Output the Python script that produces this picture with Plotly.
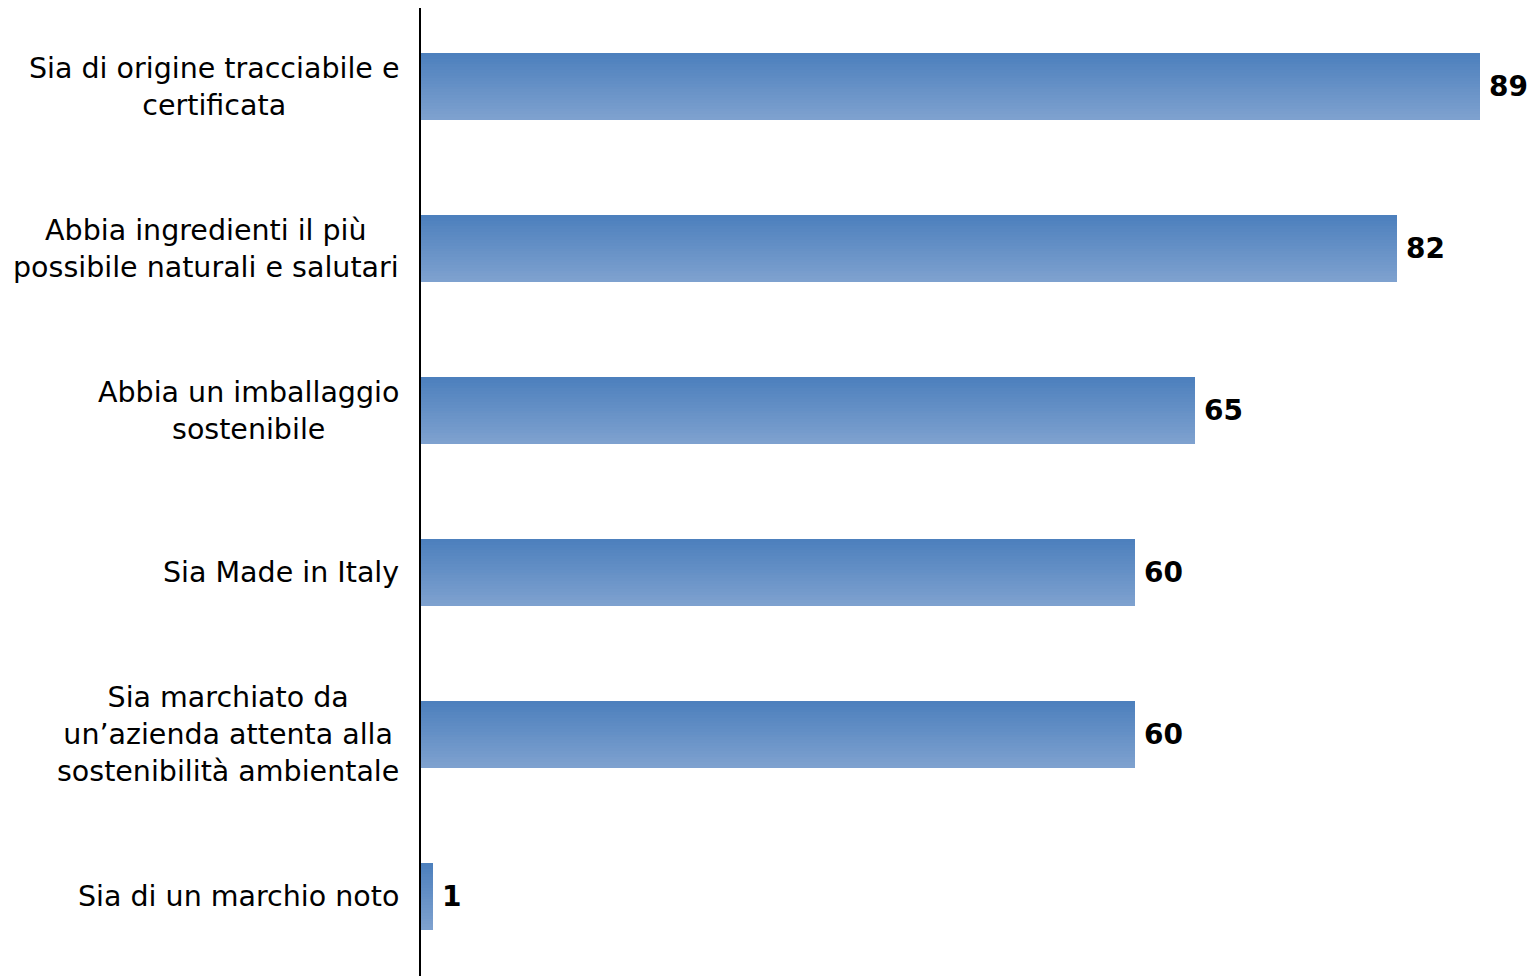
import plotly.graph_objects as go

categories = [
    "Sia di origine tracciabile e<br>certificata",
    "Abbia ingredienti il più<br>possibile naturali e salutari",
    "Abbia un imballaggio<br>sostenibile",
    "Sia Made in Italy",
    "Sia marchiato da<br>un’azienda attenta alla<br>sostenibilità ambientale",
    "Sia di un marchio noto",
]
values = [89, 82, 65, 60, 60, 1]

top_rgb = (77, 128, 189)
bot_rgb = (126, 161, 207)
N = 24
bar_w = 0.41
ypos = list(range(len(categories)))

fig = go.Figure()
for i in range(N):
    t = i / (N - 1)
    c = tuple(round(top_rgb[k] + (bot_rgb[k] - top_rgb[k]) * t) for k in range(3))
    fig.add_trace(go.Bar(
        x=values, y=ypos, orientation="h",
        width=bar_w / N + 0.002,
        offset=-bar_w / 2 + i * bar_w / N,
        marker=dict(color=f"rgb{c}", line=dict(width=0)),
        hoverinfo="skip", showlegend=False,
    ))

for y, v in zip(ypos, values):
    fig.add_annotation(x=v, y=y, text=f"<b>{v}</b>", showarrow=False,
                       xanchor="left", yanchor="middle", xshift=7,
                       font=dict(family="DejaVu Sans", size=28, color="black"))

for y, c in zip(ypos, categories):
    fig.add_annotation(x=0, xref="paper", y=y, text=c, showarrow=False,
                       xanchor="right", yanchor="middle", align="center", xshift=-20,
                       font=dict(family="DejaVu Sans", size=28.5, color="black"))

fig.update_layout(
    width=1529, height=970,
    margin=dict(l=413, r=21, t=0, b=0),
    paper_bgcolor="white", plot_bgcolor="white",
    barmode="overlay", bargap=0,
    xaxis=dict(range=[0, 92], visible=False, fixedrange=True),
    yaxis=dict(range=[5.503, -0.485], showticklabels=False, showgrid=False, zeroline=False,
               showline=True, linecolor="black", linewidth=1.5, ticks=""),
)
fig.write_html("out.html")
